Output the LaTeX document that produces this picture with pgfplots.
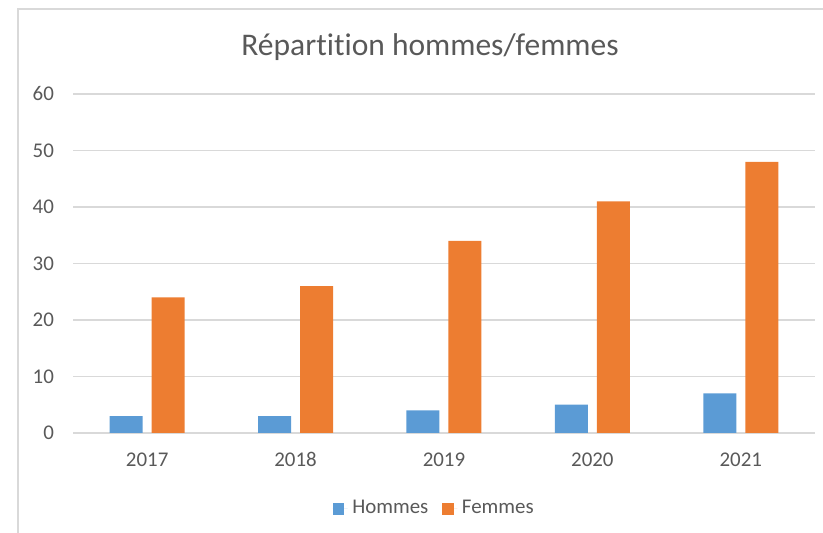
\documentclass[border=0pt]{standalone}
\usepackage{pgfplots}
\pgfplotsset{compat=1.18}
\usepackage{fontspec}
\setmainfont{Carlito}[Ligatures=NoCommon]
\definecolor{hommes}{HTML}{5B9BD5}
\definecolor{femmes}{HTML}{ED7D31}
\definecolor{txt}{HTML}{595959}
\definecolor{gridc}{HTML}{D9D9D9}
\begin{document}
\begin{tikzpicture}[x=0.4348pt,y=0.4348pt]
\useasboundingbox (0,0) rectangle (823,533);
\clip (0,0) rectangle (823,533);
% chart frame (cut at right and bottom)
\draw[gridc, line width=0.7pt] (18,-10) -- (18,524) -- (840,524);
\node[anchor=base, text=txt, font=\fontsize{13.7pt}{16pt}\selectfont, inner sep=0pt]
  at (430,477) {Répartition hommes/femmes};
\begin{axis}[
  at={(31.74pt,43.48pt)}, anchor=south west,
  width=322.6pt, height=147.4pt, scale only axis,
  xmin=-0.5, xmax=4.5, ymin=0, ymax=60,
  xtick={0,...,4}, xticklabels={2017,2018,2019,2020,2021},
  ytick={0,10,...,60},
  major tick length=0pt,
  ymajorgrids, grid style={gridc, line width=0.6pt},
  axis x line*=bottom, axis y line*=left,
  x axis line style={gridc, line width=0.9pt},
  y axis line style={draw=none},
  /pgf/number format/assume math mode=true,
  ticklabel style={text=txt, font=\fontsize{9.1pt}{11pt}\selectfont, inner sep=0pt},
  xticklabel style={anchor=center, yshift=-11.6pt},
  yticklabel style={anchor=east, xshift=-8.1pt},
  legend columns=2,
  legend style={at={(0.4885,-0.224)}, anchor=center, draw=none, fill=none,
    text=txt, font=\fontsize{9.1pt}{11pt}\selectfont,
    /tikz/every even column/.append style={column sep=4pt}},
  legend image code/.code={%
    \fill[#1, draw=none] (0pt,-2.5pt) rectangle (5pt,2.5pt);
    \path (0pt,0pt) -- (6.6pt,0pt);},
]
\addplot[ybar, bar width=0.2224, bar shift=-0.1415, fill=hommes, draw=none]
  coordinates {(0,3) (1,3) (2,4) (3,5) (4,7)};
\addplot[ybar, bar width=0.2224, bar shift=0.1415, fill=femmes, draw=none]
  coordinates {(0,24) (1,26) (2,34) (3,41) (4,48)};
\legend{Hommes, Femmes}
\end{axis}
\end{tikzpicture}
\end{document}
